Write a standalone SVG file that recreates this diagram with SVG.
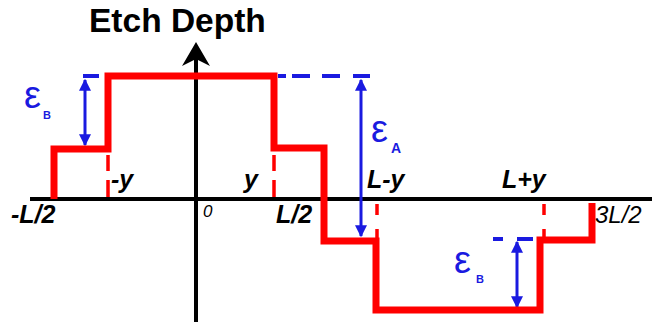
<svg xmlns="http://www.w3.org/2000/svg" width="652" height="327" viewBox="0 0 652 327">
<style>
.ax{stroke:#000;stroke-width:4;fill:none}
.prof{stroke:#ff0000;stroke-width:7;fill:none;stroke-linejoin:miter}
.rdash{stroke:#ff0000;stroke-width:3.5;fill:none}
.bdash{stroke:#1a1ae0;stroke-width:4;fill:none}
.dim{stroke:#1a1ae0;stroke-width:3;fill:none;marker-start:url(#ah);marker-end:url(#ah)}
.lbl{font-family:"Liberation Sans",Arial,sans-serif;font-weight:bold;font-style:italic;font-size:25px;fill:#000}
.eps{font-family:"Liberation Sans",Arial,sans-serif;font-size:38px;fill:#1a1ae0}
.sub{font-family:"Liberation Sans",Arial,sans-serif;font-weight:bold;font-size:11px;fill:#1a1ae0}
</style>
<defs>
<marker id="ah" viewBox="0 0 10 10" refX="9" refY="5" markerWidth="4" markerHeight="4" orient="auto-start-reverse" markerUnits="strokeWidth">
<path d="M0,0 L10,5 L0,10 Z" fill="#1a1ae0"/>
</marker>
</defs>
<g id="axes">
<line class="ax" x1="30" y1="199" x2="652" y2="199"/>
<line class="ax" x1="196" y1="58" x2="196" y2="322"/>
<path d="M196,42 L182,66 L196,59 L210,66 Z" fill="#000"/>
<text x="89" y="32" style="font-family:'Liberation Sans',Arial,sans-serif;font-weight:bold;font-size:33.5px;fill:#000">Etch Depth</text>
</g>
<g id="connectors">
<path class="bdash" d="M83,76 H99 M278,76 H286 M292,76 H310 M322,76 H340 M353,76 H370 M493,239 H503 M517,239 H533"/>
<path class="rdash" d="M108,155 V171 M108,180 V197 M274,155 V171 M274,180 V197 M377,204 V215 M377,229 V240 M544,204 V215 M544,229 V240"/>
<line class="dim" x1="85" y1="80" x2="85" y2="145"/>
<line class="dim" x1="361" y1="80" x2="361" y2="236"/>
<line class="dim" x1="517" y1="242" x2="517" y2="307"/>
</g>
<g id="profile">
<path class="prof" d="M54,199 V149 H108 V76 H274 V148 H324 V241 H376 V310 H540 V240 H592 V203"/>
</g>
<g id="labels">
<text class="lbl" x="11" y="223">-L/2</text>
<text class="lbl" x="111" y="188">-y</text>
<text class="lbl" x="244" y="188">y</text>
<text x="203" y="217" style="font-family:'Liberation Sans',Arial,sans-serif;font-style:italic;font-size:17px;fill:#000">0</text>
<text class="lbl" x="276" y="223">L/2</text>
<text class="lbl" x="367" y="188">L-y</text>
<text class="lbl" x="502" y="188">L+y</text>
<text x="595" y="223" style="font-family:'Liberation Sans',Arial,sans-serif;font-style:italic;font-size:24px;fill:#000">3L/2</text>
</g>
<g id="eps">
<text class="eps" x="24" y="108">ε</text><text class="sub" x="43" y="119">B</text>
<text class="eps" x="371" y="142">ε</text><text class="sub" x="391" y="153" style="font-size:14px">A</text>
<text class="eps" x="454" y="273">ε</text><text class="sub" x="476" y="283">B</text>
</g>
</svg>
